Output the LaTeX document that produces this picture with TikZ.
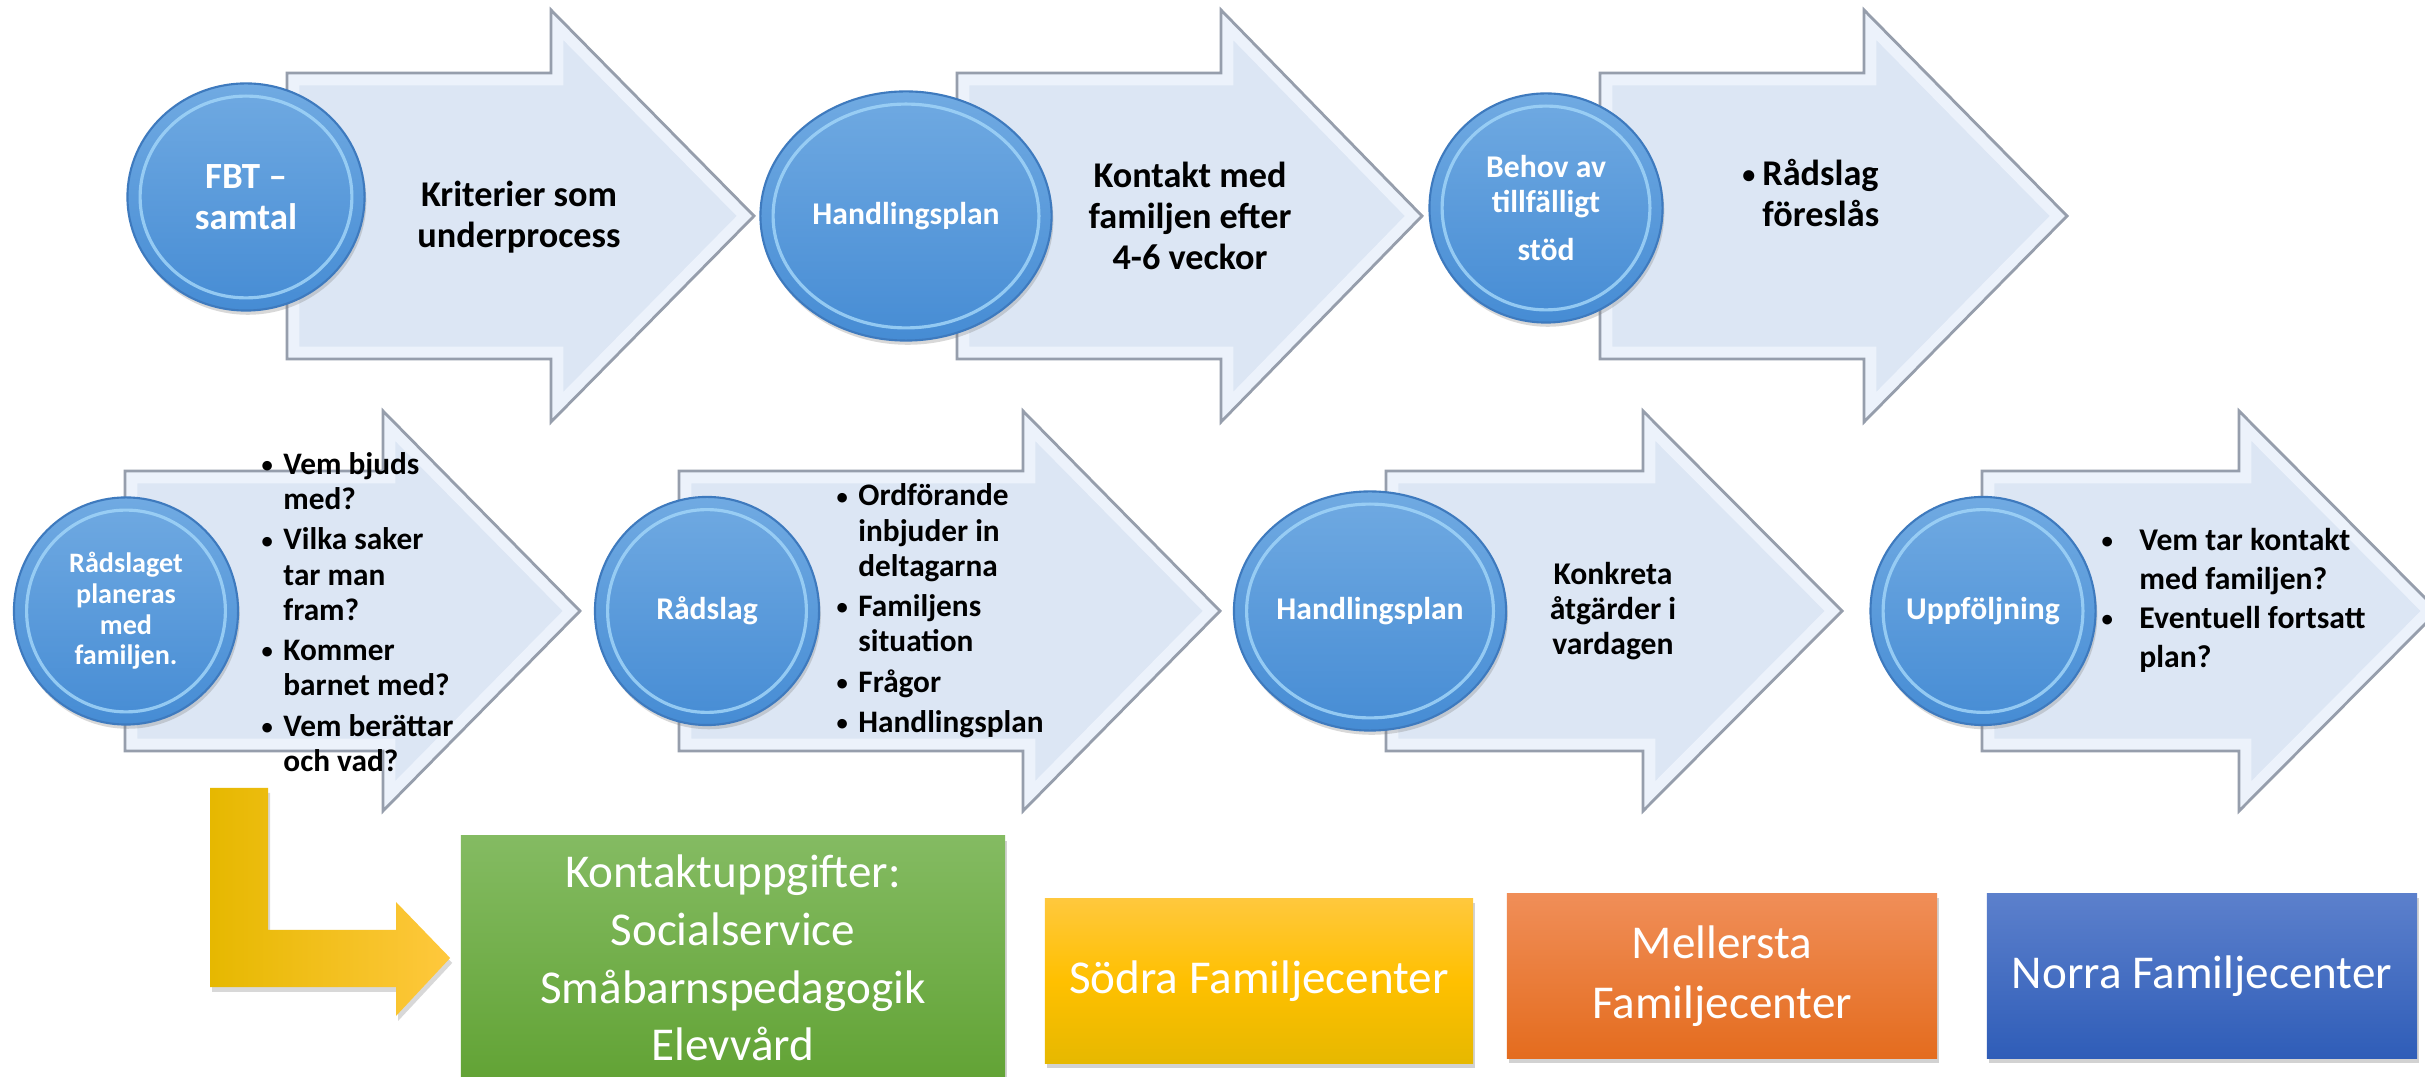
\documentclass[tikz,border=0pt]{standalone}
\usepackage{fontspec}
\setmainfont{Carlito}
\usetikzlibrary{shapes.geometric,shadows,calc}

\definecolor{arrowfill}{RGB}{220,230,244}
\definecolor{arrowedge}{RGB}{236,242,251}
\definecolor{arrowline}{RGB}{150,158,172}
\definecolor{bubbletop}{RGB}{112,170,226}
\definecolor{bubblebot}{RGB}{70,140,212}
\definecolor{bubblerim}{RGB}{160,212,248}
\definecolor{bubbleline}{RGB}{62,122,190}
\definecolor{greentop}{RGB}{132,187,98}
\definecolor{greenbot}{RGB}{98,163,53}
\definecolor{goldtop}{RGB}{255,200,61}
\definecolor{goldmid}{RGB}{255,192,0}
\definecolor{goldbot}{RGB}{230,184,0}
\definecolor{orangetop}{RGB}{240,142,88}
\definecolor{orangebot}{RGB}{228,108,30}
\definecolor{bluetop}{RGB}{92,128,204}
\definecolor{bluebot}{RGB}{47,93,184}

% left, head base, tip, centre y, body half height, head half height
\newcommand{\flowarrow}[6]{%
  \begin{scope}
    \clip (#1,#4-#5) -- (#2,#4-#5) -- (#2,#4-#6) -- (#3,#4) -- (#2,#4+#6) -- (#2,#4+#5) -- (#1,#4+#5) -- cycle;
    \fill[arrowfill] (#1,#4-#5) -- (#2,#4-#5) -- (#2,#4-#6) -- (#3,#4) -- (#2,#4+#6) -- (#2,#4+#5) -- (#1,#4+#5) -- cycle;
    \draw[arrowedge, line width=7pt] (#1,#4-#5) -- (#2,#4-#5) -- (#2,#4-#6) -- (#3,#4) -- (#2,#4+#6) -- (#2,#4+#5) -- (#1,#4+#5) -- cycle;
  \end{scope}
  \draw[arrowline, line width=0.8pt] (#1,#4-#5) -- (#2,#4-#5) -- (#2,#4-#6) -- (#3,#4) -- (#2,#4+#6) -- (#2,#4+#5) -- (#1,#4+#5) -- cycle;
}
\newcommand{\itemdot}[1]{\llap{\raisebox{0.12ex}{\scalebox{0.72}{\textbullet}}\hspace{#1}}}

\begin{document}
\begin{tikzpicture}[x=0.01cm, y=-0.01cm,
   bubble/.style={ellipse, inner sep=0pt, top color=bubbletop, bottom color=bubblebot,
      draw=bubbleline, line width=0.6pt,
      path picture={\draw[bubblerim, line width=0.9pt, opacity=0.85]
         let \p1=(path picture bounding box.north east), \p2=(path picture bounding box.center)
         in (\p2) ellipse [x radius=\x1-\x2-3.6pt, y radius=\y1-\y2-3.6pt];},
      drop shadow={opacity=0.3, shadow xshift=0.5pt, shadow yshift=-1.2pt},
      text=white, align=center, font=\bfseries\fontsize{9}{10}\selectfont},
   steptext/.style={align=center, font=\bfseries\fontsize{10.3}{11.6}\selectfont},
   listtext/.style={anchor=west, align=left, font=\bfseries\fontsize{8.9}{10}\selectfont},
   infobox/.style={rectangle, inner sep=0pt, text=white, align=center,
      drop shadow={opacity=0.35, shadow xshift=0.6pt, shadow yshift=-1.4pt},
      font=\fontsize{13.4}{16.4}\selectfont},
   bendarrow/.style={left color=goldbot, middle color=goldmid, right color=goldtop,
      drop shadow={opacity=0.3, shadow xshift=0.6pt, shadow yshift=-1.4pt}}]
   \fill[white] (0,0) rectangle (2425,1077);
   \useasboundingbox (0,0) rectangle (2425,1077);

   % upper row
   \flowarrow{287}{551}{754}{216}{143}{206}
   \flowarrow{957}{1221}{1422}{216}{143}{206}
   \flowarrow{1600}{1864}{2067}{216}{143}{206}
   \node[bubble, minimum width=2.37cm, minimum height=2.27cm, font=\bfseries\fontsize{10.5}{11.7}\selectfont] (fbt) at (246,197) {FBT --\\samtal};
   \node[bubble, minimum width=2.91cm, minimum height=2.49cm] (plan) at (906,216) {Handlingsplan};
   \node[bubble, minimum width=2.33cm, minimum height=2.29cm] (behov) at (1546,208) {Behov av\\tillfälligt\\[3.7pt]stöd};
   \node[steptext] (kriterier) at (519,217) {Kriterier som\\underprocess};
   \node[steptext] (kontaktfam) at (1190,216) {Kontakt med\\familjen efter\\4-6 veckor};
   \node[steptext, anchor=west, align=left] (foreslas) at (1750,193) {\itemdot{2pt}Rådslag\\föreslås};

   % lower row
   \flowarrow{125}{383}{580}{611}{140}{200}
   \flowarrow{679}{1023}{1220}{611}{140}{200}
   \flowarrow{1386}{1643}{1842}{611}{140}{200}
   \flowarrow{1982}{2239}{2438}{611}{140}{200}
   \node[bubble, minimum width=2.24cm, minimum height=2.27cm, font=\bfseries\fontsize{8}{8.7}\selectfont] (planeras) at (126,611) {Rådslaget\\planeras\\med\\familjen.};
   \node[bubble, minimum width=2.24cm, minimum height=2.28cm] (radslag) at (707,611) {Rådslag};
   \node[bubble, minimum width=2.72cm, minimum height=2.39cm] (plantwo) at (1370,611) {Handlingsplan};
   \node[bubble, minimum width=2.25cm, minimum height=2.28cm] (uppfoljning) at (1983,611) {Uppföljning};
   \node[listtext] (fragor) at (271,612) {\itemdot{3pt}Vem bjuds\\med?\\[1.5pt]
      \itemdot{3pt}Vilka saker\\tar man\\fram?\\[1.5pt]
      \itemdot{3pt}Kommer\\barnet med?\\[1.5pt]
      \itemdot{3pt}Vem berättar\\och vad?};
   \node[listtext] (dagordning) at (846,611) {\itemdot{3pt}Ordförande\\inbjuder in\\deltagarna\\[1.5pt]
      \itemdot{3pt}Familjens\\situation\\[1.5pt]
      \itemdot{3pt}Frågor\\[1.5pt]
      \itemdot{3pt}Handlingsplan};
   \node[align=center, font=\bfseries\fontsize{9}{10}\selectfont] (konkreta) at (1613,611) {Konkreta\\åtgärder i\\vardagen};
   \node[listtext, font=\bfseries\fontsize{9}{11.1}\selectfont] (kontaktvem) at (2127,600) {\itemdot{7.5pt}Vem tar kontakt\\med familjen?\\
      \itemdot{7.5pt}Eventuell fortsatt\\plan?};

   % contact boxes
   \node[infobox, top color=greentop, bottom color=greenbot, minimum width=5.44cm, minimum height=2.44cm] (kontakt) at (733,958) {Kontaktuppgifter:\\Socialservice\\Småbarnspedagogik\\Elevvård};
   \node[infobox, top color=goldtop, bottom color=goldbot, middle color=goldmid, minimum width=4.28cm, minimum height=1.65cm] (sodra) at (1259,981) {Södra Familjecenter};
   \node[infobox, top color=orangetop, bottom color=orangebot, minimum width=4.30cm, minimum height=1.65cm, font=\fontsize{13.4}{17}\selectfont] (mellersta) at (1722,976) {Mellersta\\Familjecenter};
   \node[infobox, top color=bluetop, bottom color=bluebot, minimum width=4.30cm, minimum height=1.65cm] (norra) at (2202,976) {Norra Familjecenter};

   \coordinate (bendtop) at (210,788);
   \shade[bendarrow] (bendtop) -- ++(58,0) -- (268,930) -- (396,930) -- (396,902) -- ([xshift=-0.1cm]kontakt.west) -- (396,1016) -- (396,987) -- (210,987) -- cycle;
\end{tikzpicture}
\end{document}
